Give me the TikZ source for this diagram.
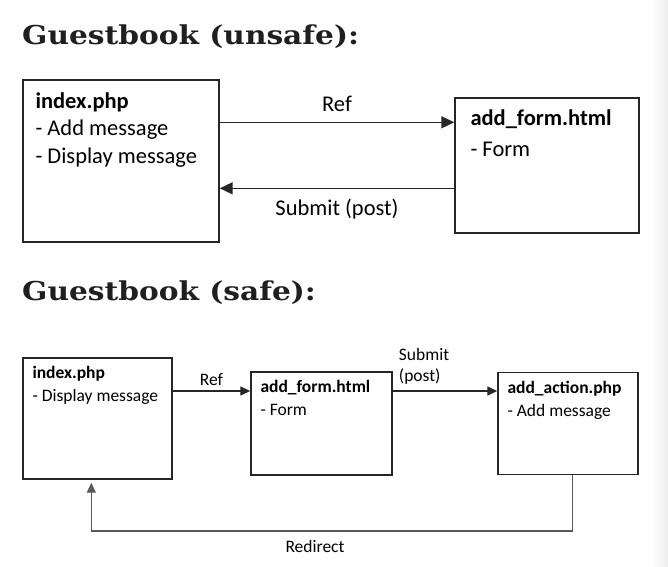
\documentclass[tikz,border=0pt]{standalone}
\usepackage{fontspec}
\setmainfont{Carlito}
\newfontfamily\titlefont{DejaVu Serif}
\usetikzlibrary{positioning,arrows.meta}

\tikzset{
  page box/.style={rectangle, draw=black!85, line width=1.4pt, inner sep=0pt},
  box text/.style={inner sep=0pt, align=left, anchor=north west},
  big text/.style={font=\fontsize{22.5}{27.5}\selectfont},
  small text/.style={font=\fontsize{17.5}{23}\selectfont},
  link/.style={draw=black!85, line width=1.6pt, -{Triangle[length=13pt,width=12pt]}},
  small link/.style={draw=black!85, line width=1.3pt, -{Triangle[length=10pt,width=9pt]}},
  heading/.style={inner sep=0pt, anchor=base west, xscale=1.14, transform shape,
    font=\titlefont\bfseries\fontsize{26}{30}\selectfont, text=black!88}
}

\begin{document}
\begin{tikzpicture}[x=1pt, y=-1pt]
\useasboundingbox (0,0) rectangle (668,566);
\shade [left color=white, right color=black!7, draw=none] (650,0) rectangle (668,566);

%unsafe version
\node [heading] (t_unsafe) at (22,44) {Guestbook (unsafe):};

\node [page box, minimum width=196pt, minimum height=162pt] (idx) at (121,161) {};
\node [box text, big text] (idx_txt) at ([xshift=13pt, yshift=-13pt]idx.north west)
  {\textbf{index.php}\\- Add message\\- Display message};

\node [page box, minimum width=184pt, minimum height=135pt] (form) at (547,165.5) {};
\node [box text, big text] (form_txt) at ([xshift=16pt, yshift=-12pt]form.north west)
  {\textbf{add\_form.html}\\[3.5pt]- Form};

\draw [link] ([yshift=-43pt]idx.north east) -- ([yshift=-43pt]idx.north east -| form.west)
  node [midway, above=7pt, big text] (ref) {Ref};
\draw [link] ([yshift=-91pt]form.north west) -- ([yshift=-91pt]form.north west -| idx.east)
  node [midway, below=7pt, big text] (submit) {Submit (post)};

%safe version
\node [heading] (t_safe) at (22,300) {Guestbook (safe):};

\node [page box, minimum width=149pt, minimum height=121pt] (idx2) at (97.5,418.5) {};
\node [box text, small text] (idx2_txt) at ([xshift=10pt, yshift=-9pt]idx2.north west)
  {\textbf{index.php}\\- Display message};

\node [page box, minimum width=141pt, minimum height=103pt] (form2) at (321.5,423.5) {};
\node [box text, small text] (form2_txt) at ([xshift=10pt, yshift=-9pt]form2.north west)
  {\textbf{add\_form.html}\\- Form};

\node [page box, minimum width=140pt, minimum height=102pt] (act) at (568,423.5) {};
\node [box text, small text] (act_txt) at ([xshift=10pt, yshift=-9pt]act.north west)
  {\textbf{add\_action.php}\\- Add message};

\draw [small link] (idx2.east |- 0,391) -- (form2.west |- 0,391)
  node [midway, above=1pt, small text] (ref2) {Ref};
\draw [small link] (form2.east |- 0,391) -- (act.west |- 0,391)
  node [pos=0.06, above right=3pt and -4pt, small text, align=left,
        font=\fontsize{17.5}{21}\selectfont] (submit2) {Submit\\(post)};

%redirect back
\coordinate (r1) at ([xshift=75pt]act.south west);
\coordinate (r2) at ([xshift=69pt]idx2.south west);
\draw [small link, draw=black!65, shorten >=3pt] (r1) -- (r1 |- 0,531) -- (r2 |- 0,531) -- (r2);
\node [small text] (redirect) at (315,546) {Redirect};

\end{tikzpicture}
\end{document}
